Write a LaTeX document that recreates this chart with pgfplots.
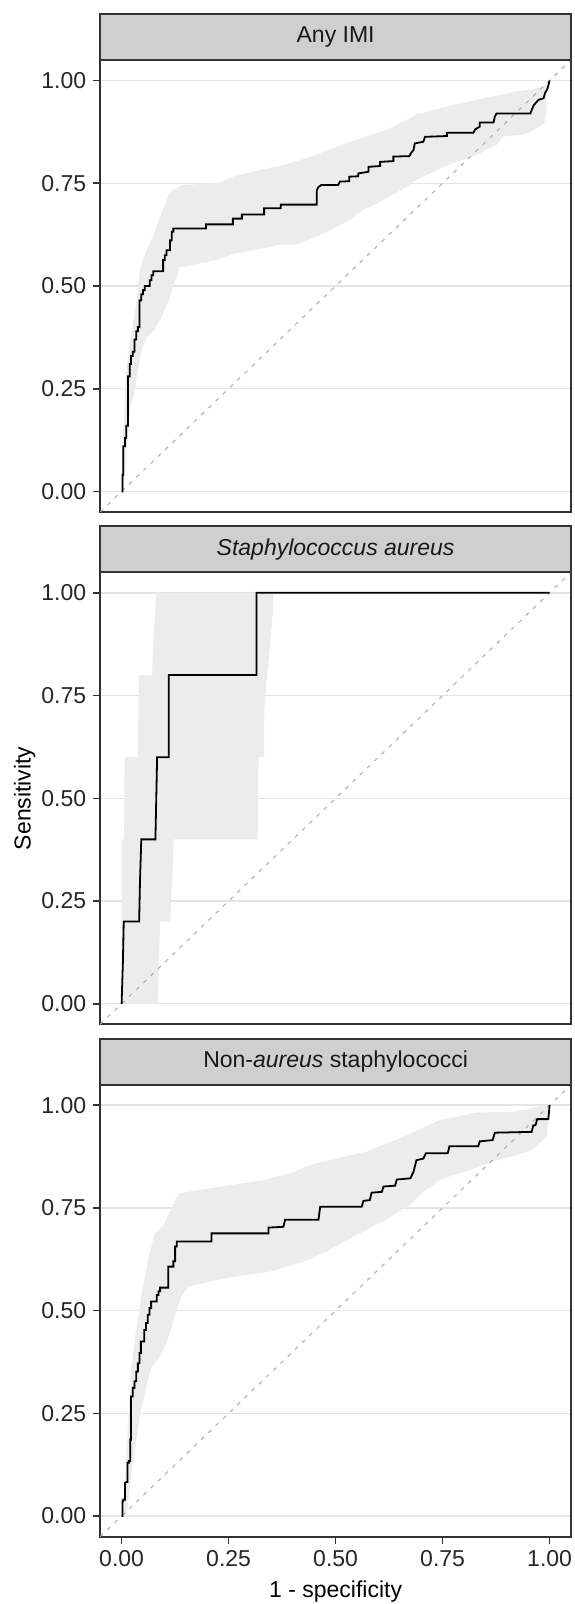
\documentclass[border=0pt]{standalone}
\usepackage{fontspec}
\setmainfont{Liberation Sans}
\usepackage{pgfplots}
\pgfplotsset{compat=1.18}
\definecolor{bordc}{HTML}{333333}
\definecolor{stripc}{HTML}{CFCFCF}
\definecolor{gridc}{HTML}{E4E4E4}
\definecolor{bandc}{HTML}{ECECEC}
\definecolor{diagc}{HTML}{ABABAB}
\newcommand{\fs}{\fontsize{11.5}{13}\selectfont}
\pgfplotsset{
  rocpanel/.style={
    scale only axis, width=235.4pt, height=226pt,
    xmin=-0.05, xmax=1.05, ymin=-0.05, ymax=1.05,
    anchor=north west,
    axis line style={draw=bordc, line width=0.9pt},
    tick align=outside, tick pos=left,
    major tick length=3.5pt,
    tick style={draw=bordc, line width=0.8pt},
    ymajorgrids, xmajorgrids=false,
    major grid style={draw=gridc, line width=0.7pt},
    ytick={0,0.25,0.5,0.75,1},
    yticklabels={0.00,0.25,0.50,0.75,1.00},
    tick label style={font=\fs, text=black!85},
    label style={font=\fs, text=black},
  },
  band/.style={fill=bandc, draw=none},
  diag/.style={diagc, dash pattern=on 2pt off 3pt, line width=0.5pt},
  roc/.style={black, line width=0.9pt, line join=miter},
}
\begin{document}
\begin{tikzpicture}
\useasboundingbox (0,0) rectangle (287pt,-802pt);
% ---------------- Panel 1: Any IMI
\begin{axis}[rocpanel, name=p1, at={(50.1pt,-30pt)}, xtick=\empty]
\addplot[band] coordinates {
(0.000,0.000) (0.002,0.100) (0.006,0.200) (0.010,0.286) (0.015,0.327) (0.020,0.367)
(0.033,0.449) (0.041,0.530) (0.050,0.567) (0.076,0.628) (0.093,0.677) (0.110,0.721)
(0.120,0.733) (0.140,0.745) (0.230,0.752) (0.265,0.768) (0.370,0.793) (0.430,0.810)
(0.500,0.838) (0.540,0.853) (0.620,0.880) (0.690,0.918) (0.780,0.942) (0.870,0.962)
(0.930,0.975) (0.960,0.978) (0.993,0.989)
(0.993,0.930) (0.988,0.896) (0.950,0.872) (0.930,0.868) (0.892,0.864) (0.876,0.843)
(0.830,0.819) (0.783,0.802) (0.752,0.790) (0.689,0.758) (0.674,0.746) (0.611,0.709)
(0.565,0.685) (0.526,0.656) (0.471,0.628) (0.409,0.600) (0.367,0.600) (0.307,0.587)
(0.264,0.579) (0.221,0.563) (0.153,0.548) (0.136,0.546) (0.123,0.506) (0.110,0.465)
(0.093,0.424) (0.076,0.392) (0.059,0.376) (0.046,0.343) (0.037,0.286) (0.029,0.238)
(0.020,0.204) (0.012,0.100) (0.005,0.000)
};
\addplot[diag] coordinates {(-0.05,-0.05) (1.05,1.05)};
\addplot[roc] coordinates {
(0.000,0.000) (0.002,0.000) (0.002,0.040) (0.004,0.040) (0.004,0.110) (0.008,0.110)
(0.008,0.130) (0.011,0.130) (0.011,0.160) (0.015,0.160) (0.015,0.280) (0.019,0.280)
(0.019,0.310) (0.022,0.310) (0.022,0.330) (0.026,0.330) (0.026,0.340) (0.030,0.340)
(0.030,0.370) (0.034,0.370) (0.034,0.390) (0.038,0.390) (0.038,0.400) (0.042,0.400)
(0.042,0.465) (0.046,0.465) (0.046,0.480) (0.050,0.480) (0.050,0.490) (0.054,0.490)
(0.054,0.500) (0.066,0.500) (0.066,0.514) (0.070,0.514) (0.070,0.526) (0.074,0.526)
(0.074,0.536) (0.097,0.536) (0.097,0.563) (0.101,0.563) (0.101,0.575) (0.105,0.575)
(0.105,0.587) (0.113,0.587) (0.113,0.611) (0.117,0.611) (0.117,0.632) (0.121,0.632)
(0.121,0.640) (0.197,0.640) (0.197,0.650) (0.260,0.650) (0.260,0.664) (0.281,0.664)
(0.281,0.674) (0.333,0.674) (0.333,0.689) (0.372,0.689) (0.372,0.698) (0.456,0.698)
(0.456,0.733) (0.460,0.741) (0.467,0.746) (0.506,0.746) (0.510,0.754) (0.532,0.755)
(0.532,0.766) (0.553,0.767) (0.553,0.774) (0.577,0.778) (0.577,0.790) (0.604,0.792)
(0.604,0.802) (0.635,0.804) (0.635,0.815) (0.672,0.816) (0.676,0.823) (0.682,0.831)
(0.685,0.847) (0.705,0.851) (0.709,0.863) (0.760,0.865) (0.760,0.873) (0.822,0.873)
(0.826,0.881) (0.837,0.888) (0.837,0.898) (0.869,0.898) (0.872,0.912) (0.876,0.920)
(0.955,0.920) (0.958,0.928) (0.963,0.940) (0.974,0.953) (0.986,0.957) (0.989,0.969)
(0.995,0.980) (1.000,1.000)
};
\end{axis}
\draw[fill=stripc, draw=bordc, line width=0.9pt] (p1.north west) rectangle ([yshift=23pt]p1.north east);
\node[font=\fs, text=black!90] at ([yshift=11.5pt]p1.north) {Any IMI};
% ---------------- Panel 2: S. aureus
\begin{axis}[rocpanel, name=p2, at={(50.1pt,-286.15pt)}, xtick=\empty,
  ylabel={Sensitivity},
  ylabel style={at={(axis description cs:-0.1604,0.5)}, anchor=center}]
\addplot[band] coordinates {
(0.000,0.000) (0.000,0.400) (0.006,0.400) (0.007,0.600) (0.038,0.600) (0.040,0.800)
(0.071,0.800) (0.075,0.900) (0.081,1.000) (0.355,1.000) (0.352,0.930) (0.345,0.850)
(0.340,0.800) (0.336,0.750) (0.333,0.700) (0.333,0.600) (0.320,0.600) (0.319,0.400)
(0.122,0.400) (0.120,0.330) (0.116,0.270) (0.114,0.200) (0.090,0.200) (0.087,0.100)
(0.085,0.000)
};
\addplot[diag] coordinates {(-0.05,-0.05) (1.05,1.05)};
\addplot[roc] coordinates {
(0.000,0.000) (0.003,0.100) (0.005,0.200) (0.041,0.200) (0.043,0.300) (0.046,0.400)
(0.079,0.400) (0.081,0.500) (0.083,0.600) (0.110,0.600) (0.110,0.800) (0.315,0.800)
(0.315,1.000) (1.000,1.000)
};
\end{axis}
\draw[fill=stripc, draw=bordc, line width=0.9pt] (p2.north west) rectangle ([yshift=23pt]p2.north east);
\node[font=\fs, text=black!90] at ([yshift=11.5pt]p2.north) {\textit{Staphylococcus aureus}};
% ---------------- Panel 3: NAS
\begin{axis}[rocpanel, name=p3, at={(50.1pt,-542.3pt)},
  xtick={0,0.25,0.5,0.75,1},
  xticklabels={0.00,0.25,0.50,0.75,1.00},
  xlabel={1 - specificity},
  xlabel style={at={(axis description cs:0.5,-0.1217)}, anchor=center}]
\addplot[band] coordinates {
(0.000,0.000) (0.006,0.040) (0.009,0.120) (0.013,0.186) (0.016,0.243) (0.020,0.308)
(0.023,0.364) (0.031,0.429) (0.039,0.486) (0.047,0.542) (0.059,0.607) (0.066,0.644)
(0.078,0.688) (0.098,0.708) (0.125,0.769) (0.137,0.786) (0.222,0.800) (0.333,0.818)
(0.393,0.834) (0.444,0.855) (0.487,0.867) (0.573,0.887) (0.615,0.905) (0.658,0.923)
(0.744,0.964) (0.830,0.982) (0.915,0.984) (0.958,0.992) (0.984,1.000) (0.997,1.000)
(0.997,0.964) (0.993,0.923) (0.958,0.891) (0.915,0.875) (0.892,0.871) (0.845,0.854)
(0.814,0.842) (0.752,0.822) (0.705,0.790) (0.674,0.757) (0.611,0.717) (0.534,0.676)
(0.479,0.644) (0.425,0.619) (0.347,0.595) (0.269,0.583) (0.242,0.579) (0.156,0.559)
(0.140,0.535) (0.129,0.502) (0.117,0.461) (0.102,0.413) (0.086,0.381) (0.070,0.364)
(0.062,0.332) (0.055,0.299) (0.047,0.267) (0.039,0.219) (0.031,0.162) (0.023,0.105)
(0.016,0.040) (0.012,0.000)
};
\addplot[diag] coordinates {(-0.05,-0.05) (1.05,1.05)};
\addplot[roc] coordinates {
(0.000,0.000) (0.002,0.000) (0.002,0.036) (0.004,0.036) (0.004,0.040) (0.008,0.040)
(0.008,0.081) (0.012,0.083) (0.014,0.083) (0.014,0.130) (0.017,0.130) (0.017,0.134)
(0.020,0.134) (0.020,0.186) (0.022,0.186) (0.022,0.291) (0.026,0.291) (0.026,0.312)
(0.030,0.312) (0.030,0.328) (0.034,0.328) (0.034,0.352) (0.038,0.352) (0.038,0.372)
(0.042,0.372) (0.042,0.397) (0.045,0.397) (0.045,0.425) (0.053,0.425) (0.053,0.453)
(0.057,0.453) (0.057,0.470) (0.061,0.470) (0.061,0.490) (0.065,0.490) (0.065,0.506)
(0.069,0.506) (0.069,0.522) (0.082,0.522) (0.082,0.538) (0.086,0.538) (0.086,0.547)
(0.090,0.547) (0.090,0.556) (0.109,0.556) (0.109,0.607) (0.121,0.607) (0.121,0.620)
(0.125,0.620) (0.125,0.656) (0.129,0.656) (0.129,0.668) (0.210,0.668) (0.210,0.688)
(0.343,0.688) (0.343,0.702) (0.378,0.704) (0.382,0.721) (0.460,0.721) (0.464,0.753)
(0.561,0.753) (0.565,0.767) (0.580,0.769) (0.584,0.787) (0.608,0.789) (0.612,0.802)
(0.639,0.804) (0.643,0.819) (0.675,0.822) (0.682,0.838) (0.689,0.866) (0.705,0.870)
(0.711,0.883) (0.762,0.883) (0.766,0.900) (0.833,0.900) (0.837,0.912) (0.867,0.915)
(0.872,0.933) (0.958,0.935) (0.962,0.951) (0.967,0.951) (0.971,0.966) (0.997,0.966)
(1.000,1.000)
};
\end{axis}
\draw[fill=stripc, draw=bordc, line width=0.9pt] (p3.north west) rectangle ([yshift=23pt]p3.north east);
\node[font=\fs, text=black!90] at ([yshift=11.5pt]p3.north) {Non-\textit{aureus} staphylococci};
\end{tikzpicture}
\end{document}
